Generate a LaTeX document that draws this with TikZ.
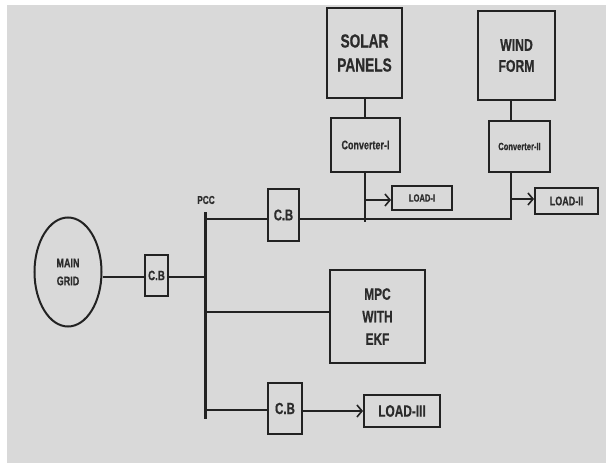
\documentclass[tikz,border=0pt]{standalone}
\usepackage{fontspec}
\setmainfont{Liberation Sans}[FakeStretch=0.72, BoldFeatures={FakeBold=0.6}]
\usetikzlibrary{arrows.meta,shapes.geometric}
\definecolor{bg}{HTML}{D9D9D9}
\definecolor{ink}{HTML}{222222}
\definecolor{txt}{HTML}{2B2B2B}
\tikzset{
  blk/.style={draw=ink, line width=2pt, inner sep=0pt, align=center, font=\bfseries, text=txt},
  wire/.style={draw=ink, line width=2.2pt},
  feed/.style={draw=ink, line width=2.2pt, -{Straight Barb[length=5pt,width=12pt,line width=1.6pt]}},
}
\begin{document}
\begin{tikzpicture}[x=1pt,y=-1pt]
\useasboundingbox (0,0) rectangle (606,463);
\fill[white] (0,0) rectangle (606,463);
\fill[bg] (7,5) rectangle (606,463);
% nodes
\node[blk, ellipse, minimum width=67pt, minimum height=109pt, font=\bfseries\fontsize{12.5}{18}\selectfont] (grid) at (68,272) {MAIN\\GRID};
\node[blk, minimum width=23pt, minimum height=41pt, font=\bfseries\fontsize{13.5}{16}\selectfont] (cb1) at (156.5,275.5) {C.B};
\coordinate (bt) at (205,212);
\coordinate (bb) at (205,419);
\node[font=\bfseries\fontsize{11.5}{13}\selectfont, text=txt] (pcc) at (206,200) {PCC};
\node[blk, minimum width=31pt, minimum height=52pt, font=\bfseries\fontsize{15.5}{18}\selectfont] (cb2) at (283.5,215) {C.B};
\node[blk, minimum width=34pt, minimum height=51pt, font=\bfseries\fontsize{16}{18}\selectfont] (cb3) at (285,408.5) {C.B};
\node[blk, minimum width=95pt, minimum height=93pt, font=\bfseries\fontsize{16.5}{22.5}\selectfont] (mpc) at (377.5,316.5) {MPC\\WITH\\EKF};
\node[blk, minimum width=76pt, minimum height=32pt, font=\bfseries\fontsize{16.5}{18}\selectfont] (load3) at (402,411) {LOAD-III};
\node[blk, minimum width=75pt, minimum height=90pt, font=\bfseries\fontsize{19}{24}\selectfont] (solar) at (364.5,53) {SOLAR\\PANELS};
\node[blk, minimum width=69pt, minimum height=54pt, font=\bfseries\fontsize{12.5}{13}\selectfont] (conv1) at (365.5,145) {Converter-I};
\node[blk, minimum width=60pt, minimum height=24pt, font=\bfseries\fontsize{10.5}{11}\selectfont] (load1) at (422,198) {LOAD-I};
\node[blk, minimum width=77pt, minimum height=89pt, font=\bfseries\fontsize{17}{21}\selectfont] (wind) at (516.5,55.5) {WIND\\FORM};
\node[blk, minimum width=61pt, minimum height=51pt, font=\bfseries\fontsize{10.5}{11}\selectfont] (conv2) at (519.5,146.5) {Converter-II};
\node[blk, minimum width=63pt, minimum height=26pt, font=\bfseries\fontsize{12.5}{13}\selectfont] (load2) at (566.5,201) {LOAD-II};
% helper coordinates
\coordinate (sx) at (365,0);
\coordinate (wx) at (511,0);
\coordinate (j2) at (511,220);
% PCC bus
\draw[draw=ink, line width=3pt] (bt) -- (bb);
% connectors
\draw[wire] (grid.east |- 0,277) -- (cb1.west |- 0,277);
\draw[wire] (cb1.east |- 0,277) -- (bt |- 0,277);
\draw[wire] (bt |- 0,219) -- (cb2.west |- 0,219);
\draw[wire] (cb2.east |- 0,219) -- (j2 |- 0,219);
\draw[wire] (bt |- 0,312) -- (mpc.west |- 0,312);
\draw[wire] (bt |- 0,410) -- (cb3.west |- 0,410);
\draw[feed] (cb3.east |- 0,411) -- (load3.west |- 0,411);
\draw[wire] (solar.south -| sx) -- (conv1.north -| sx);
\draw[wire] (conv1.south -| sx) -- (sx |- 0,222);
\draw[feed] (sx |- 0,200) -- (load1.west |- 0,200);
\draw[wire] (wind.south -| wx) -- (conv2.north -| wx);
\draw[wire] (conv2.south -| wx) -- (wx |- 0,220);
\draw[feed] (wx |- 0,199) -- (load2.west |- 0,199);
\end{tikzpicture}
\end{document}
